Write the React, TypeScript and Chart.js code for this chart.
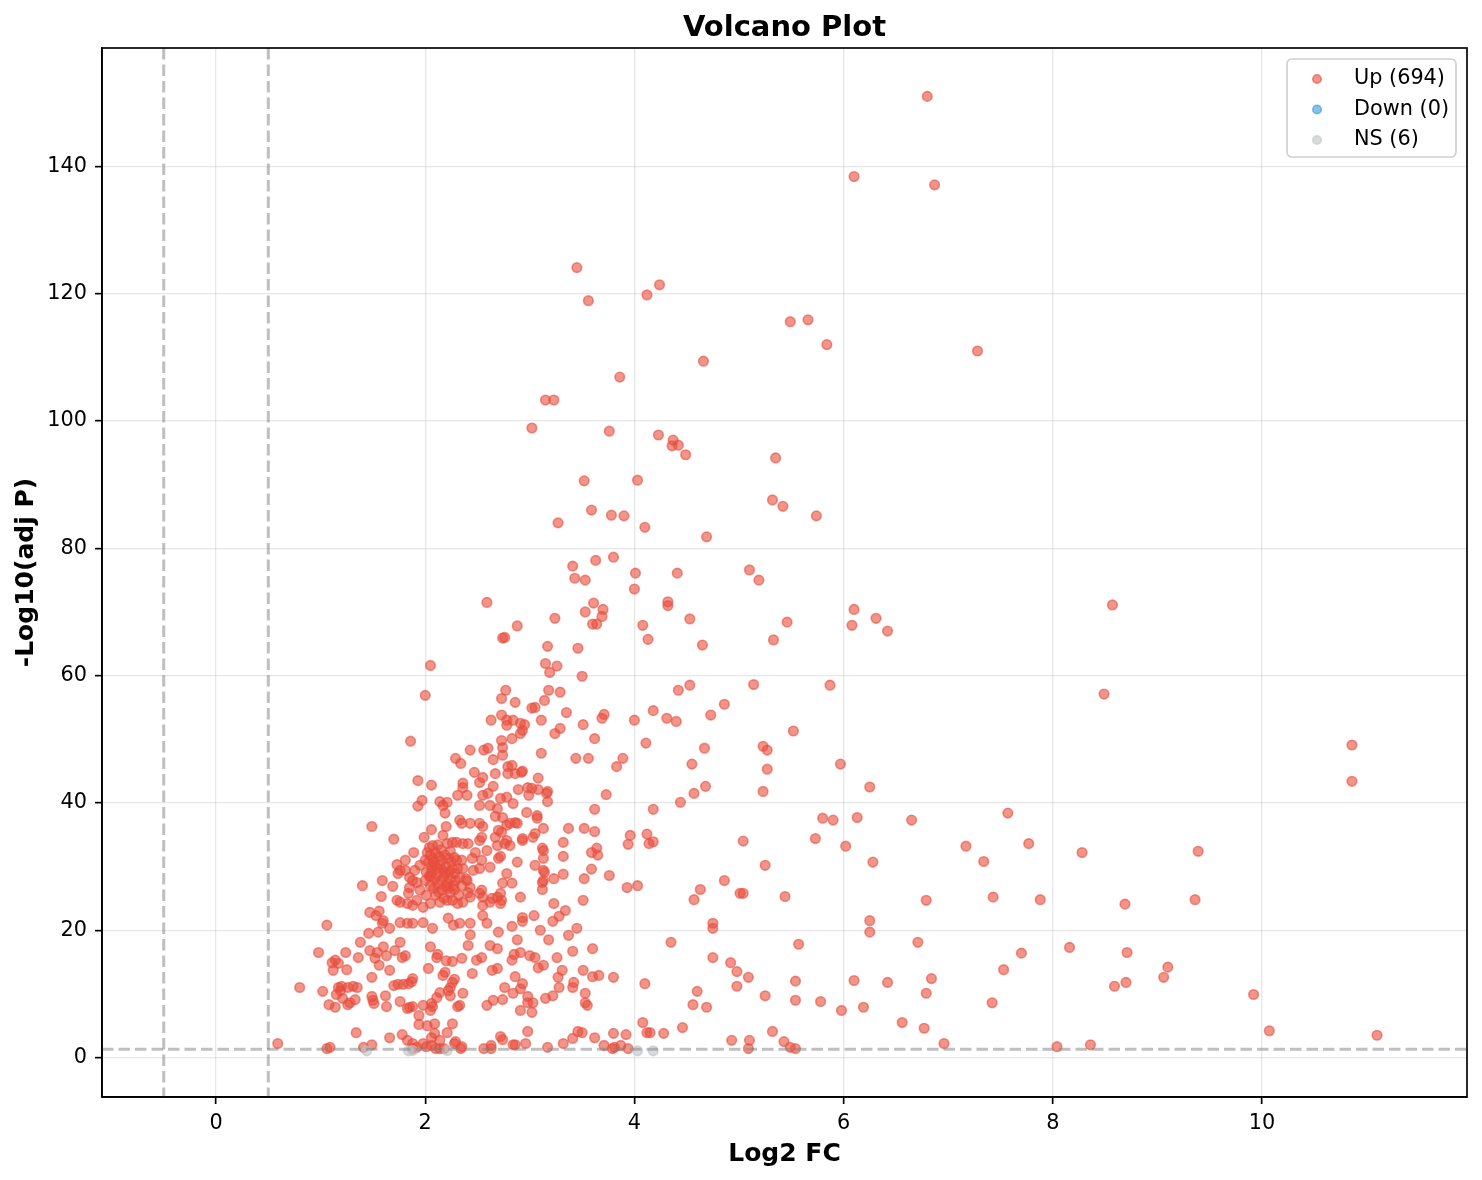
import React, { useEffect, useRef } from "react";
import { Chart, registerables } from "chart.js";

Chart.register(...registerables);

// [log2FC, -log10(adj p)]
const upPoints: [number, number][] = [
  [6.8, 151.0], [6.1, 138.4], [6.87, 137.1], [3.45, 124.1], [4.24, 121.4], [4.12, 119.8], [3.56, 118.9],
  [5.66, 115.9], [5.49, 115.6], [5.84, 112.0], [7.28, 111.0], [4.66, 109.4], [3.86, 106.9], [3.15, 103.3],
  [3.23, 103.3], [3.02, 98.9], [3.76, 98.4], [4.23, 97.8], [4.37, 97.0], [4.42, 96.2], [4.36, 96.1],
  [4.49, 94.7], [5.35, 94.2], [4.03, 90.7], [3.52, 90.6], [5.32, 87.6], [5.42, 86.6], [3.59, 86.0],
  [3.78, 85.2], [3.9, 85.1], [5.74, 85.1], [3.27, 84.0], [4.1, 83.3], [4.69, 81.8], [3.8, 78.6],
  [3.63, 78.1], [3.41, 77.2], [5.1, 76.6], [4.01, 76.1], [4.41, 76.1], [3.43, 75.3], [3.53, 75.0],
  [5.19, 75.0], [4.0, 73.6], [4.32, 71.6], [4.32, 71.0], [2.59, 71.5], [3.61, 71.4], [8.57, 71.1],
  [3.7, 70.4], [3.53, 70.0], [6.1, 70.4], [3.69, 69.3], [6.31, 69.0], [3.24, 69.0], [4.53, 68.9],
  [5.46, 68.4], [3.6, 68.1], [3.64, 68.1], [6.08, 67.9], [4.08, 67.9], [6.42, 67.0], [2.88, 67.8],
  [2.74, 65.9], [2.76, 66.0], [4.13, 65.7], [5.33, 65.6], [4.65, 64.8], [3.17, 64.6], [3.46, 64.3],
  [2.05, 61.6], [3.15, 61.9], [3.26, 61.5], [3.19, 60.5], [3.5, 59.9], [5.14, 58.6], [4.53, 58.5],
  [5.87, 58.5], [2.77, 57.7], [4.42, 57.7], [3.18, 57.7], [3.29, 57.4], [2.0, 56.9], [8.49, 57.1],
  [3.14, 56.1], [2.73, 56.4], [2.86, 55.8], [4.86, 55.5], [3.02, 54.9], [3.05, 55.0], [4.18, 54.5],
  [3.35, 54.2], [3.71, 53.9], [3.69, 53.3], [4.73, 53.8], [4.31, 53.3], [4.4, 52.8], [2.63, 53.0],
  [2.84, 53.0], [2.73, 53.8], [2.78, 53.0], [2.78, 52.2], [2.91, 52.5], [2.95, 52.3], [3.11, 53.0],
  [4.0, 53.0], [3.51, 52.3], [2.93, 51.4], [2.91, 50.9], [3.29, 51.7], [5.52, 51.3], [3.24, 50.9],
  [3.62, 50.1], [2.83, 50.1], [2.73, 49.8], [1.86, 49.7], [4.11, 49.4], [10.86, 49.1], [5.23, 48.9],
  [5.27, 48.3], [3.11, 47.8], [4.67, 48.6], [2.56, 48.3], [2.6, 48.6], [2.74, 48.7], [2.43, 48.3],
  [2.74, 47.5], [3.44, 47.0], [3.56, 47.0], [2.29, 47.0], [3.89, 47.0], [2.34, 46.2], [2.65, 46.8],
  [3.83, 45.7], [4.55, 46.1], [5.97, 46.1], [2.79, 45.7], [2.83, 45.9], [5.27, 45.3], [2.47, 44.8],
  [2.55, 44.0], [2.67, 44.6], [2.79, 44.6], [2.86, 44.6], [2.92, 44.8], [2.93, 45.0], [3.08, 43.9],
  [1.93, 43.5], [10.86, 43.4], [4.68, 42.6], [6.25, 42.5], [2.06, 42.8], [2.36, 43.1], [2.36, 42.4],
  [2.52, 43.2], [2.65, 42.6], [2.89, 42.1], [2.98, 42.4], [3.02, 42.3], [3.08, 42.1], [3.16, 41.5],
  [3.17, 41.8], [2.99, 41.2], [3.73, 41.3], [4.57, 41.5], [5.23, 41.8], [2.31, 41.2], [2.4, 41.2],
  [2.55, 41.2], [2.6, 41.5], [2.72, 40.7], [2.78, 40.9], [1.97, 40.4], [2.14, 40.2], [2.17, 39.6],
  [2.21, 40.1], [1.93, 39.5], [2.84, 39.9], [2.52, 39.6], [2.62, 39.6], [2.69, 39.1], [3.17, 40.2],
  [4.44, 40.1], [4.18, 39.0], [3.62, 39.0], [2.19, 38.4], [2.97, 38.5], [7.57, 38.4], [3.07, 38.0],
  [2.67, 37.9], [5.8, 37.6], [5.9, 37.3], [6.13, 37.7], [6.65, 37.3], [2.74, 37.7], [2.33, 37.3],
  [3.07, 37.6], [2.86, 36.9], [2.81, 36.8], [2.88, 36.8], [2.35, 36.8], [2.43, 36.8], [2.52, 36.8],
  [2.55, 36.3], [2.78, 36.5], [1.49, 36.3], [2.2, 36.3], [3.13, 36.0], [3.37, 36.0], [3.52, 36.0],
  [3.62, 35.5], [2.06, 35.8], [2.7, 35.7], [2.73, 35.4], [3.05, 35.2], [3.96, 34.9], [4.12, 35.1],
  [2.17, 34.9], [1.99, 34.6], [2.54, 34.6], [2.67, 34.6], [3.03, 34.6], [2.93, 34.4], [2.52, 34.1],
  [2.78, 34.1], [2.93, 34.1], [5.04, 34.0], [5.73, 34.4], [7.77, 33.6], [1.7, 34.3], [4.14, 33.6],
  [4.18, 33.9], [3.94, 33.5], [6.02, 33.2], [7.17, 33.2], [3.32, 33.8], [2.21, 33.6], [2.26, 33.8],
  [2.3, 33.8], [2.07, 33.3], [2.36, 33.6], [2.41, 33.6], [2.69, 33.3], [2.76, 33.6], [2.81, 33.3],
  [3.64, 32.9], [3.12, 32.9], [3.13, 32.5], [3.59, 32.2], [8.28, 32.2], [9.39, 32.4], [1.89, 32.2],
  [2.48, 32.2], [2.59, 32.5], [3.65, 31.8], [3.32, 31.6], [3.13, 31.3], [2.72, 31.6], [2.7, 31.3],
  [7.34, 30.8], [6.28, 30.7], [5.25, 30.2], [2.88, 30.7], [3.05, 30.2], [2.54, 31.0], [2.45, 31.3],
  [2.35, 31.0], [1.73, 30.3], [1.81, 31.0], [1.95, 30.2], [2.62, 29.9], [2.52, 29.7], [2.46, 29.4],
  [2.36, 29.7], [3.59, 29.6], [1.9, 29.4], [1.76, 29.4], [1.81, 29.4], [1.74, 28.9], [3.14, 29.1],
  [3.13, 29.4], [3.32, 28.8], [2.78, 28.9], [3.76, 28.6], [1.85, 28.3], [1.88, 27.8], [1.59, 27.8],
  [3.23, 28.1], [3.52, 28.1], [4.86, 27.8], [3.13, 27.8], [2.4, 27.8], [3.12, 27.5], [2.74, 27.4],
  [2.83, 27.4], [1.4, 27.0], [1.69, 26.9], [1.85, 26.7], [1.92, 27.5], [3.93, 26.7], [4.03, 27.0],
  [3.12, 26.4], [2.43, 26.7], [2.54, 26.3], [4.63, 26.4], [1.95, 26.3], [1.84, 25.8], [2.72, 25.8],
  [2.52, 25.8], [5.04, 25.8], [5.01, 25.8], [1.58, 25.3], [5.44, 25.3], [7.43, 25.2], [2.91, 25.2],
  [2.43, 25.2], [2.55, 25.2], [2.69, 25.2], [2.64, 25.0], [7.88, 24.8], [9.36, 24.8], [4.57, 24.8],
  [6.79, 24.7], [1.73, 24.7], [1.92, 24.7], [2.21, 24.7], [2.73, 24.7], [3.51, 24.7], [1.76, 24.4],
  [2.14, 24.4], [2.36, 24.4], [2.62, 24.4], [2.72, 24.2], [1.83, 24.2], [2.05, 24.2], [2.31, 24.2],
  [3.23, 24.2], [8.69, 24.1], [1.88, 23.9], [2.55, 23.9], [1.98, 23.6], [3.34, 23.1], [1.56, 23.0],
  [1.47, 22.8], [1.53, 22.3], [3.04, 22.3], [3.28, 22.2], [2.93, 22.0], [2.22, 21.9], [6.25, 21.5],
  [1.6, 21.5], [2.93, 21.4], [3.22, 21.4], [2.55, 22.3], [1.76, 21.2], [1.98, 21.2], [1.83, 21.1],
  [1.88, 21.1], [2.33, 21.1], [2.43, 21.1], [2.59, 21.1], [1.59, 21.1], [4.75, 21.1], [2.27, 20.8],
  [1.06, 20.8], [2.83, 20.6], [1.66, 20.3], [2.07, 20.3], [3.45, 20.3], [4.75, 20.3], [3.1, 20.0],
  [6.25, 19.7], [1.55, 19.7], [2.7, 19.7], [2.43, 19.3], [3.37, 19.2], [2.88, 18.5], [3.18, 18.5],
  [1.46, 19.5], [4.35, 18.1], [6.71, 18.1], [1.38, 18.1], [1.76, 18.1], [5.57, 17.8], [2.41, 17.6],
  [2.62, 17.6], [1.6, 17.4], [2.05, 17.4], [8.16, 17.3], [3.6, 17.1], [2.69, 17.1], [1.47, 16.8],
  [1.71, 16.8], [3.41, 16.7], [8.71, 16.5], [7.7, 16.4], [0.98, 16.5], [1.24, 16.5], [1.54, 16.5],
  [2.91, 16.5], [2.12, 16.2], [2.85, 16.2], [1.63, 16.0], [1.81, 16.0], [3.0, 16.0], [4.75, 15.7],
  [1.36, 15.7], [1.78, 15.7], [2.11, 15.7], [2.54, 15.7], [3.05, 15.7], [3.26, 15.7], [2.35, 15.6],
  [1.52, 15.6], [1.14, 15.3], [2.2, 15.2], [2.83, 15.3], [2.49, 15.3], [2.26, 15.1], [4.92, 14.9],
  [1.11, 14.9], [1.17, 14.8], [3.13, 14.5], [1.56, 14.5], [9.1, 14.2], [3.08, 14.1], [2.03, 14.0],
  [2.69, 14.0], [7.53, 13.8], [1.25, 13.8], [1.12, 13.7], [1.66, 13.7], [2.64, 13.7], [3.31, 13.7],
  [3.51, 13.7], [4.98, 13.5], [2.19, 13.4], [2.45, 13.2], [2.17, 12.9], [3.66, 12.9], [5.09, 12.6],
  [9.06, 12.6], [3.27, 12.6], [3.6, 12.7], [3.8, 12.6], [1.49, 12.6], [2.86, 12.7], [6.84, 12.4],
  [1.88, 12.4], [2.28, 12.3], [6.1, 12.1], [5.54, 12.0], [1.87, 11.9], [6.42, 11.8], [8.7, 11.8],
  [2.26, 11.8], [3.42, 11.8], [4.1, 11.6], [1.84, 11.6], [2.93, 11.6], [1.74, 11.5], [1.79, 11.5],
  [1.7, 11.3], [8.59, 11.2], [4.98, 11.2], [1.2, 11.2], [1.31, 11.2], [0.8, 11.0], [1.17, 11.0],
  [1.26, 11.0], [1.35, 11.0], [2.24, 11.0], [2.76, 11.0], [3.28, 11.0], [3.41, 11.0], [2.91, 10.8],
  [1.19, 10.5], [2.22, 10.5], [1.02, 10.4], [4.6, 10.4], [2.14, 10.2], [6.79, 10.1], [3.53, 10.1],
  [2.36, 10.1], [2.84, 10.1], [9.92, 9.9], [1.15, 9.9], [5.25, 9.7], [3.22, 9.7], [1.62, 9.7],
  [2.24, 9.7], [1.49, 9.6], [2.98, 9.6], [2.11, 9.4], [3.15, 9.3], [1.21, 9.3], [1.33, 9.1],
  [2.74, 9.1], [1.5, 9.0], [2.65, 9.0], [5.54, 9.0], [5.78, 8.8], [1.76, 8.8], [7.42, 8.6],
  [1.28, 8.6], [2.98, 8.6], [3.03, 8.6], [3.53, 8.6], [2.06, 8.5], [1.51, 8.5], [4.56, 8.3],
  [1.26, 8.3], [1.08, 8.3], [1.98, 8.2], [2.33, 8.2], [2.59, 8.2], [3.55, 8.2], [1.88, 8.0],
  [1.63, 8.0], [2.31, 8.0], [2.07, 8.0], [4.69, 7.9], [6.19, 7.9], [1.14, 7.9], [1.85, 7.9],
  [1.83, 7.7], [5.98, 7.4], [2.05, 7.4], [2.91, 7.4], [3.02, 7.1], [1.94, 6.6], [6.56, 5.5],
  [4.08, 5.5], [1.94, 5.2], [2.09, 5.3], [2.26, 5.3], [2.02, 5.0], [4.46, 4.7], [6.77, 4.6],
  [10.07, 4.2], [1.34, 3.9], [2.98, 4.1], [5.32, 4.1], [3.46, 4.1], [3.5, 3.9], [4.28, 3.8],
  [3.8, 3.8], [3.92, 3.6], [4.12, 3.9], [4.15, 3.9], [2.21, 3.9], [2.09, 3.8], [1.78, 3.6],
  [11.1, 3.5], [1.66, 3.1], [2.06, 3.1], [3.62, 3.1], [3.41, 3.0], [2.72, 3.3], [2.74, 2.8],
  [4.93, 2.7], [5.1, 2.7], [1.83, 2.7], [2.14, 2.7], [5.43, 2.5], [2.29, 2.5], [6.96, 2.2],
  [0.59, 2.2], [1.88, 2.2], [1.98, 2.2], [2.28, 2.2], [2.96, 2.2], [3.32, 2.2], [8.36, 2.0],
  [1.49, 2.0], [2.86, 2.0], [2.84, 2.0], [3.71, 1.9], [3.87, 1.9], [2.06, 1.9], [2.63, 1.9],
  [8.04, 1.7], [2.35, 1.7], [2.01, 1.7], [1.09, 1.6], [1.41, 1.6], [1.92, 1.6], [3.17, 1.6],
  [3.81, 1.6], [5.49, 1.6], [5.09, 1.4], [1.06, 1.4], [2.14, 1.4], [3.94, 1.4], [2.34, 1.4],
  [5.54, 1.4], [2.56, 1.4], [2.63, 1.4], [3.79, 1.4], [2.1, 1.4], [2.18, 1.4], [1.88, 1.4],
  // dense core around log2FC 2-2.4
  [2.02, 32.2], [2.05, 31.8], [2.07, 31.3], [2.1, 32.1], [2.13, 31.6], [2.16, 31.0], [2.19, 31.8],
  [2.22, 31.3], [2.25, 30.7], [2.28, 31.4], [2.3, 31.0], [2.03, 30.7], [2.06, 30.0], [2.08, 30.7],
  [2.11, 29.7], [2.14, 30.3], [2.17, 29.4], [2.2, 30.0], [2.23, 29.1], [2.26, 29.7], [2.28, 28.9],
  [2.31, 29.7], [2.01, 29.1], [2.04, 28.5], [2.06, 29.1], [2.09, 28.1], [2.12, 28.8], [2.15, 27.8],
  [2.18, 28.5], [2.21, 27.4], [2.24, 28.1], [2.27, 27.0], [2.29, 27.8], [2.05, 27.0], [2.08, 26.6],
  [2.12, 27.2], [2.16, 26.3], [2.2, 26.9], [2.24, 25.9], [2.28, 26.4], [2.0, 27.8], [2.33, 28.3],
  [2.35, 27.0], [2.39, 28.1], [2.41, 25.9], [2.1, 25.5], [2.18, 25.0], [2.26, 24.7], [2.01, 25.5],
  [2.32, 25.5], [2.04, 33.0], [2.12, 33.4], [2.0, 31.0], [2.15, 32.6], [2.24, 32.4], [2.09, 30.2],
  [2.19, 29.0], [2.13, 26.0], [2.22, 26.6], [2.05, 28.4],
];
const downPoints: [number, number][] = [];
const nsPoints: [number, number][] = [
  [1.44, 1.05], [1.84, 1.05], [1.88, 1.1], [2.21, 1.1], [4.03, 1.05], [4.18, 1.05],
];

const seriesLabels = ["Up (694)", "Down (0)", "NS (6)"];
const seriesColors = ["231, 76, 60", "52, 152, 219", "189, 195, 199"];
const xTicks = [0, 2, 4, 6, 8, 10];
const yTicks = [0, 20, 40, 60, 80, 100, 120, 140];
const fcCutoffs = [-0.5, 0.5];
const pCutoff = 1.3;

const FONT = "'DejaVu Sans', sans-serif";

const toXY = (pts: [number, number][]) => pts.map(([x, y]) => ({ x, y }));

const App: React.FC = () => {
  const canvasRef = useRef<HTMLCanvasElement | null>(null);

  useEffect(() => {
    if (!canvasRef.current) return;

    // threshold lines, frame, title, axis titles, legend
    const decor = {
      id: "decor",
      afterDatasetsDraw(chart: any) {
        const { ctx, chartArea: a, scales } = chart;
        const xs = scales.x;
        const ys = scales.y;
        ctx.save();
        ctx.beginPath();
        ctx.rect(a.left, a.top, a.right - a.left, a.bottom - a.top);
        ctx.clip();
        ctx.strokeStyle = "rgba(128,128,128,0.5)";
        ctx.lineWidth = 3;
        ctx.setLineDash([11.5, 5]);
        fcCutoffs.forEach((v) => {
          const px = xs.getPixelForValue(v);
          ctx.beginPath();
          ctx.moveTo(px, a.top);
          ctx.lineTo(px, a.bottom);
          ctx.stroke();
        });
        const py = ys.getPixelForValue(pCutoff);
        ctx.beginPath();
        ctx.moveTo(a.left, py);
        ctx.lineTo(a.right, py);
        ctx.stroke();
        ctx.restore();

        ctx.save();
        ctx.strokeStyle = "#000";
        ctx.lineWidth = 1.67;
        ctx.strokeRect(a.left, a.top, a.right - a.left, a.bottom - a.top);
        ctx.restore();
      },
      afterDraw(chart: any) {
        const { ctx, chartArea: a } = chart;
        const cx = (a.left + a.right) / 2;
        const cy = (a.top + a.bottom) / 2;
        ctx.save();
        ctx.fillStyle = "#000";
        ctx.textAlign = "center";
        ctx.textBaseline = "alphabetic";
        ctx.font = `bold 29px ${FONT}`;
        ctx.fillText("Volcano Plot", cx, 36);
        ctx.font = `bold 25px ${FONT}`;
        ctx.fillText("Log2 FC", cx, 1161);
        ctx.translate(33, cy);
        ctx.rotate(-Math.PI / 2);
        ctx.fillText("-Log10(adj P)", 0, 0);
        ctx.restore();

        // legend box
        const bx = 1287, by = 59, bw = 169, bh = 98, r = 5;
        ctx.save();
        ctx.beginPath();
        ctx.moveTo(bx + r, by);
        ctx.arcTo(bx + bw, by, bx + bw, by + bh, r);
        ctx.arcTo(bx + bw, by + bh, bx, by + bh, r);
        ctx.arcTo(bx, by + bh, bx, by, r);
        ctx.arcTo(bx, by, bx + bw, by, r);
        ctx.closePath();
        ctx.fillStyle = "rgba(255,255,255,0.8)";
        ctx.fill();
        ctx.strokeStyle = "#d0d0d0";
        ctx.lineWidth = 1.67;
        ctx.stroke();
        seriesLabels.forEach((label, i) => {
          const ry = 79 + i * 30.5;
          ctx.beginPath();
          ctx.arc(1317, ry, 4.3, 0, Math.PI * 2);
          ctx.fillStyle = `rgba(${seriesColors[i]},0.6)`;
          ctx.strokeStyle = `rgba(${seriesColors[i]},0.6)`;
          ctx.lineWidth = 1.5;
          ctx.fill();
          ctx.stroke();
          ctx.fillStyle = "#000";
          ctx.font = `20.8px ${FONT}`;
          ctx.textAlign = "left";
          ctx.textBaseline = "alphabetic";
          ctx.fillText(label, 1354, ry + 5);
        });
        ctx.restore();
      },
    };

    const ds = (label: string, pts: [number, number][], color: string, order: number) => ({
      label,
      data: toXY(pts),
      backgroundColor: `rgba(${color},0.6)`,
      borderColor: `rgba(${color},0.6)`,
      borderWidth: 1.6,
      pointRadius: 4.8,
      pointHoverRadius: 4.8,
      order,
    });

    const tickFont = { family: FONT, size: 20.8 };

    const chart = new Chart(canvasRef.current, {
      type: "scatter",
      data: {
        datasets: [
          ds(seriesLabels[0], upPoints, seriesColors[0], 3),
          ds(seriesLabels[1], downPoints, seriesColors[1], 2),
          ds(seriesLabels[2], nsPoints, seriesColors[2], 1),
        ],
      },
      options: {
        responsive: true,
        maintainAspectRatio: false,
        animation: false,
        events: [],
        layout: { padding: { top: 48, right: 15, left: 0, bottom: 0 } },
        plugins: {
          legend: { display: false },
          title: { display: false },
          tooltip: { enabled: false },
        },
        scales: {
          x: {
            type: "linear",
            min: -1.09,
            max: 11.96,
            afterBuildTicks: (s: any) => {
              s.ticks = xTicks.map((v) => ({ value: v }));
            },
            afterFit: (s: any) => {
              s.height = 83;
            },
            grid: {
              color: "rgba(176,176,176,0.3)",
              lineWidth: 1.3,
              tickColor: "#000",
              tickLength: 7,
              tickWidth: 1.67,
            },
            border: { display: true, color: "#000", width: 1.67 },
            ticks: { font: tickFont, color: "#000", padding: 7, maxRotation: 0 },
          },
          y: {
            type: "linear",
            min: -6.2,
            max: 158.6,
            afterBuildTicks: (s: any) => {
              s.ticks = yTicks.map((v) => ({ value: v }));
            },
            afterFit: (s: any) => {
              s.width = 102;
            },
            grid: {
              color: "rgba(176,176,176,0.3)",
              lineWidth: 1.3,
              tickColor: "#000",
              tickLength: 7,
              tickWidth: 1.67,
            },
            border: { display: true, color: "#000", width: 1.67 },
            ticks: { font: tickFont, color: "#000", padding: 8 },
          },
        },
      },
      plugins: [decor],
    } as any);

    return () => {
      chart.destroy();
    };
  }, []);

  return (
    <div
      style={{
        position: "fixed",
        left: 0,
        top: 0,
        width: 1482,
        height: 1180,
        background: "#fff",
      }}
    >
      <canvas ref={canvasRef}></canvas>
    </div>
  );
};

export default App;
